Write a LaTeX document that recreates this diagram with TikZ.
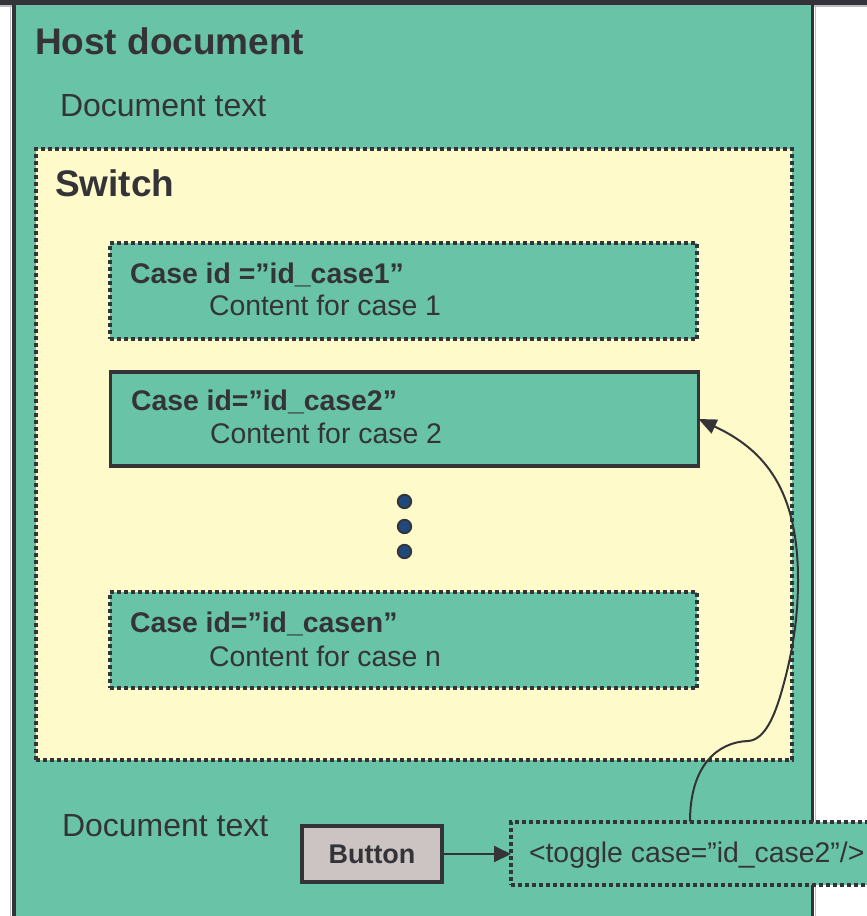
\documentclass[tikz,border=0pt]{standalone}
\usepackage{fontspec}
\setmainfont{Liberation Sans}
\usetikzlibrary{arrows.meta}

\definecolor{hostgreen}{RGB}{105,195,166}
\definecolor{switchyellow}{RGB}{255,250,202}
\definecolor{ink}{RGB}{52,52,56}
\definecolor{buttongray}{RGB}{203,196,194}
\definecolor{dotblue}{RGB}{31,73,125}
\definecolor{edgegray}{RGB}{190,190,192}

\newcommand{\titlefont}{\fontsize{37}{44}\selectfont\bfseries}
\newcommand{\bodyfont}{\fontsize{32}{38}\selectfont}
\newcommand{\casehead}{\fontsize{28.4}{34}\selectfont\bfseries}
\newcommand{\casebody}{\fontsize{28.4}{34}\selectfont}

\tikzset{
  box/.style={inner sep=0pt, outer sep=0pt, anchor=north west},
  hostbox/.style={box, draw=ink, line width=3.5pt, fill=hostgreen},
  dotbox/.style={box, draw=ink, line width=4pt, dash pattern=on 4pt off 3pt},
  solidbox/.style={box, draw=ink, line width=3.5pt},
  label/.style={inner sep=0pt, outer sep=0pt, anchor=base west, text=ink},
  ellipsisdot/.style={circle, draw=ink, line width=1.8pt, fill=dotblue, minimum size=13.5pt, inner sep=0pt},
  conn/.style={draw=ink, line width=2pt},
}

\begin{document}
\begin{tikzpicture}[x=1pt, y=-1pt]
  \useasboundingbox (0,0) rectangle (867,916);
  \clip (0,0) rectangle (867,916);

  % page frame behind the host document
  \fill[white] (0,0) rectangle (867,916);
  \draw[edgegray, line width=1.2pt] (0,6) -- (867,6);
  \draw[edgegray, line width=1.2pt] (10.5,6) -- (10.5,916);
  \draw[edgegray, line width=1.2pt] (815.3,6) -- (815.3,916);
  \fill[ink] (0,0) rectangle (867,5);

  % host document
  \node[hostbox, minimum width=798.7pt, minimum height=960pt] (host) at (14,3.5) {};
  \node[label, font=\titlefont] (hosttitle) at (35,54) {Host document};
  \node[label, font=\bodyfont] (doctop) at (60,116) {Document text};

  % switch container
  \node[dotbox, fill=switchyellow, minimum width=756pt, minimum height=611pt] (switch) at (36,149) {};
  \node[label, font=\titlefont] (switchtitle) at (55,196) {Switch};

  % cases
  \node[dotbox, fill=hostgreen, minimum width=587.5pt, minimum height=96pt] (case1) at (109.5,243) {};
  \node[label, font=\casehead] (case1head) at (130,283) {Case id =”id\_case1”};
  \node[label, font=\casebody] (case1body) at (209,315) {Content for case 1};

  \node[solidbox, fill=hostgreen, minimum width=588pt, minimum height=94pt] (case2) at (110.5,372) {};
  \node[label, font=\casehead] (case2head) at (131,410) {Case id=”id\_case2”};
  \node[label, font=\casebody] (case2body) at (210,443) {Content for case 2};

  \node[ellipsisdot] (dot1) at (404.5,501.5) {};
  \node[ellipsisdot] (dot2) at (404.5,526.5) {};
  \node[ellipsisdot] (dot3) at (404.5,551.5) {};

  \node[dotbox, fill=hostgreen, minimum width=587.5pt, minimum height=96pt] (casen) at (109.5,592) {};
  \node[label, font=\casehead] (casenhead) at (130,632) {Case id=”id\_casen”};
  \node[label, font=\casebody] (casenbody) at (209,666) {Content for case n};

  % bottom row
  \node[label, font=\bodyfont] (docbottom) at (62,836) {Document text};
  \node[solidbox, fill=buttongray, minimum width=140pt, minimum height=56pt,
        font=\fontsize{27}{32}\selectfont\bfseries, text=ink] (button) at (302,826) {Button};
  \node[dotbox, fill=hostgreen, minimum width=420pt, minimum height=63.5pt] (toggle) at (511,821.5) {};
  \node[label, font=\casebody] (toggletext) at (529,862) {<toggle case=”id\_case2”/>};

  % connectors
  \draw[conn, -{Triangle[length=17pt, width=16pt]}] (button.east) -- (button.east -| toggle.west);
  \draw[conn, -{Triangle[length=18pt, width=15pt]}]
    (toggle.north -| 690,0)
    .. controls (690,765) and (718,742) .. (748,741)
    .. controls (765,740) and (775,715) .. (782,690)
    .. controls (792,655) and (798,620) .. (798,580)
    .. controls (798,490) and (765,450) .. (case2.east);
\end{tikzpicture}
\end{document}
